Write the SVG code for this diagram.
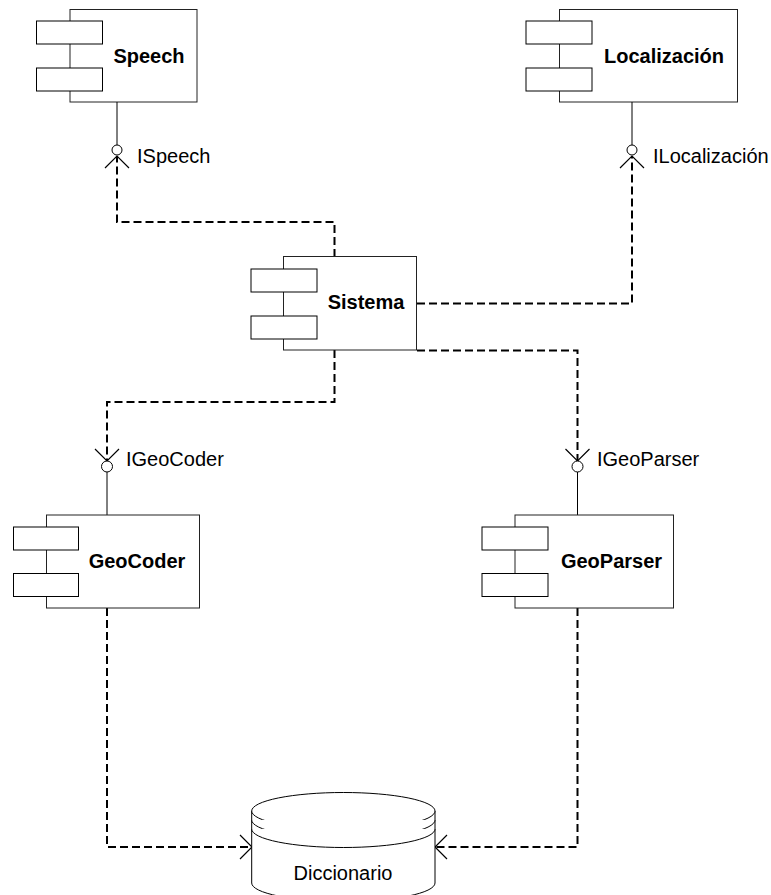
<svg xmlns="http://www.w3.org/2000/svg" width="771" height="895" viewBox="0 0 771 895">
  <style>
    .body { fill: #fff; stroke: #222; stroke-width: 1; }
    .port { fill: #fff; stroke: #000; stroke-width: 1; }
    .name { font-family: "Liberation Sans", Arial, sans-serif; font-size: 20px; font-weight: bold; fill: #000; text-anchor: middle; }
    .iface { font-family: "Liberation Sans", Arial, sans-serif; font-size: 20px; fill: #000; }
    .stem { stroke: #000; stroke-width: 1; fill: none; }
    .ball { fill: #fff; stroke: #000; stroke-width: 1; }
    .dep { fill: none; stroke: #000; stroke-width: 2; stroke-dasharray: 8 4; marker-end: url(#open); }
    .db { fill: #fff; stroke: #000; stroke-width: 1; }
  </style>
  <defs>
    <marker id="open" markerUnits="userSpaceOnUse" markerWidth="30" markerHeight="30" viewBox="-15 -15 30 30" refX="0" refY="0" orient="auto" overflow="visible">
      <path d="M-12,-12 L0,0 L-12,12" fill="none" stroke="#000" stroke-width="1.2" stroke-dasharray="none"/>
    </marker>
  </defs>
  <rect width="771" height="895" fill="#fff"/>

  <!-- connectors -->
  <g id="connectors">
    <path class="dep" d="M334.5,257 V222 H117 V156"/>
    <path class="dep" d="M417,303.5 H632 V156"/>
    <path class="dep" d="M334.5,350 V402 H107 V461"/>
    <path class="dep" d="M417,350.5 H577.5 V461"/>
    <path class="dep" d="M107,608 V847 H252"/>
    <path class="dep" d="M577.5,608 V847 H435"/>
  </g>

  <!-- Speech component with ISpeech interface -->
  <g id="speech">
    <rect class="body" x="70" y="9.5" width="127" height="92.5"/>
    <rect class="port" x="36.5" y="21" width="66" height="23"/>
    <rect class="port" x="36.5" y="68" width="66" height="23"/>
    <text class="name" x="149" y="63">Speech</text>
    <line class="stem" x1="117" y1="102" x2="117" y2="145"/>
    <circle class="ball" cx="117" cy="150" r="5"/>
    <text class="iface" x="137" y="163">ISpeech</text>
  </g>

  <!-- Localización component with ILocalización interface -->
  <g id="localizacion">
    <rect class="body" x="559.5" y="9.5" width="178" height="92.5"/>
    <rect class="port" x="526" y="21" width="66" height="23"/>
    <rect class="port" x="526" y="68" width="66" height="23"/>
    <text class="name" x="664" y="63">Localización</text>
    <line class="stem" x1="632" y1="102" x2="632" y2="145"/>
    <circle class="ball" cx="632" cy="150" r="5"/>
    <text class="iface" x="653" y="163">ILocalización</text>
  </g>

  <!-- Sistema component -->
  <g id="sistema">
    <rect class="body" x="283.5" y="256.5" width="133" height="93.5"/>
    <rect class="port" x="251" y="269" width="66" height="23"/>
    <rect class="port" x="251" y="316" width="66" height="23"/>
    <text class="name" x="366" y="309">Sistema</text>
  </g>

  <!-- GeoCoder component with IGeoCoder interface -->
  <g id="geocoder">
    <line class="stem" x1="107" y1="472" x2="107" y2="515"/>
    <circle class="ball" cx="107" cy="466.5" r="5.5"/>
    <text class="iface" x="126" y="466">IGeoCoder</text>
    <rect class="body" x="46.5" y="515" width="153" height="93"/>
    <rect class="port" x="13.5" y="527" width="65" height="23"/>
    <rect class="port" x="13.5" y="573.5" width="65" height="23"/>
    <text class="name" x="137" y="568">GeoCoder</text>
  </g>

  <!-- GeoParser component with IGeoParser interface -->
  <g id="geoparser">
    <line class="stem" x1="577.5" y1="472" x2="577.5" y2="515"/>
    <circle class="ball" cx="577.5" cy="466.5" r="5.5"/>
    <text class="iface" x="597" y="466">IGeoParser</text>
    <rect class="body" x="515" y="515" width="158.5" height="93"/>
    <rect class="port" x="482" y="527" width="66" height="23"/>
    <rect class="port" x="482" y="573.5" width="66" height="23"/>
    <text class="name" x="611.5" y="568">GeoParser</text>
  </g>

  <!-- Diccionario data store -->
  <g id="diccionario">
    <path class="db" d="M251.7,811 V883 A91.65,18.5 0 0 0 435,883 V811"/>
    <ellipse class="db" cx="343.35" cy="811" rx="91.65" ry="18.5"/>
    <path class="db" fill="none" d="M251.7,820 A91.65,18.5 0 0 0 435,820"/>
    <path class="db" fill="none" d="M251.7,829 A91.65,18.5 0 0 0 435,829"/>
    <text class="iface" x="343" y="880" text-anchor="middle">Diccionario</text>
  </g>
</svg>
